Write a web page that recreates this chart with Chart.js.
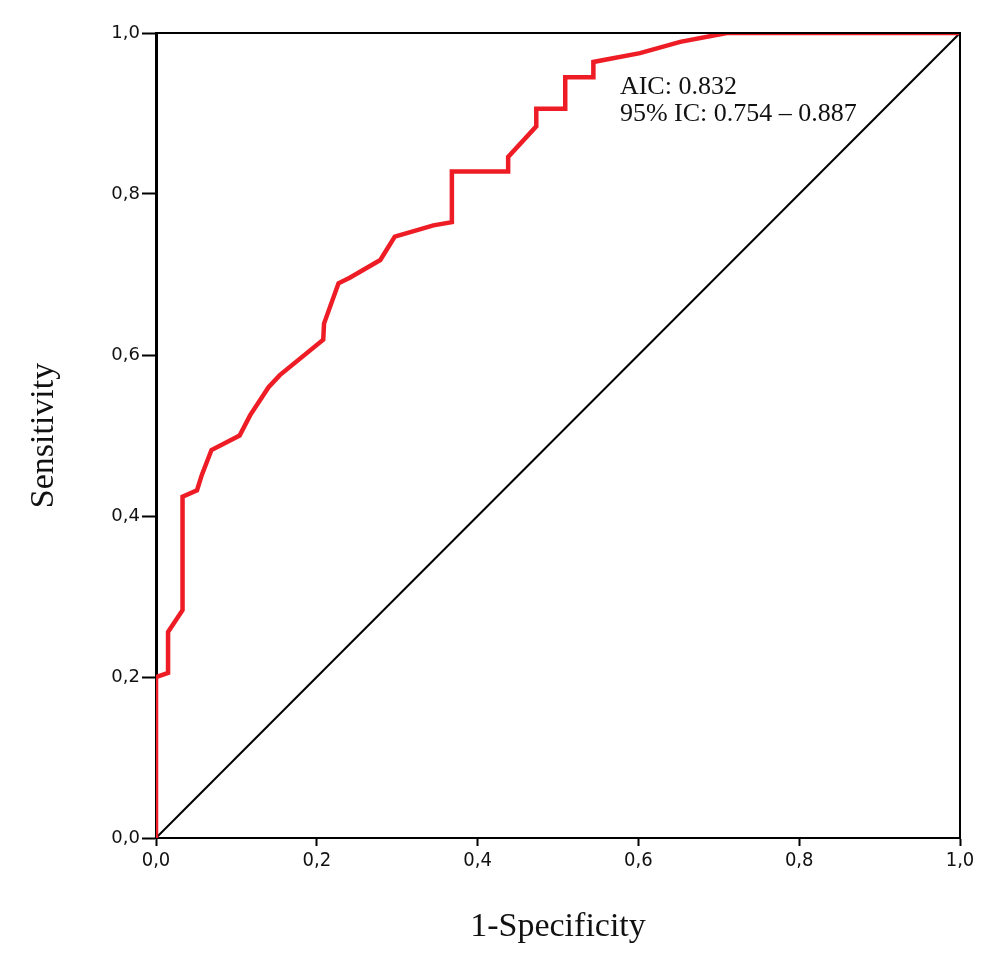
<!DOCTYPE html>
<html>
<head>
<meta charset="utf-8">
<script src="https://cdn.jsdelivr.net/npm/chart.js@4/dist/chart.umd.min.js"></script>
<style>
  body { margin: 0; background: #fff; }
  canvas { display: block; }
</style>
</head>
<body>
<canvas id="roc" width="1000" height="956"></canvas>
<script>
// ---- Daten ----
const fpr = [0, 0, 0.015, 0.015, 0.033, 0.033, 0.051, 0.057, 0.069, 0.104, 0.117, 0.140, 0.154,
    0.208, 0.209, 0.227, 0.241, 0.279, 0.297, 0.345, 0.368, 0.368, 0.438, 0.438, 0.473, 0.473,
    0.509, 0.509, 0.544, 0.544, 0.602, 0.652, 0.710, 1.0];
const tpr = [0, 0.200, 0.205, 0.256, 0.283, 0.424, 0.432, 0.451, 0.482, 0.500, 0.525, 0.560, 0.575,
    0.619, 0.639, 0.689, 0.696, 0.718, 0.747, 0.761, 0.765, 0.828, 0.828, 0.846, 0.884, 0.906,
    0.906, 0.945, 0.945, 0.964, 0.975, 0.989, 1.0, 1.0];
const refX = [0, 1];
const refY = [0, 1];
const annotationLines = ['AIC: 0.832', '95% IC: 0.754 \u2013 0.887'];

const fmt = v => v.toFixed(1).replace('.', ',');

// ---- Rahmen + Text ----
const framePlugin = {
    id: 'frame',
    afterDatasetsDraw(chart) {
        const { ctx, chartArea: a, scales } = chart;
        ctx.save();
        ctx.strokeStyle = '#000';
        ctx.lineWidth = 2;
        ctx.beginPath();
        ctx.moveTo(a.left, a.top);
        ctx.lineTo(a.right, a.top);
        ctx.lineTo(a.right, a.bottom);
        ctx.stroke();
        ctx.fillStyle = '#111';
        ctx.font = '26px "Liberation Serif", "Times New Roman", serif';
        ctx.textBaseline = 'alphabetic';
        const x = scales.x.getPixelForValue(0.577);
        ctx.fillText(annotationLines[0], x, scales.y.getPixelForValue(0.924));
        ctx.fillText(annotationLines[1], x, scales.y.getPixelForValue(0.891));
        ctx.restore();
    }
};

const ctx = document.getElementById('roc').getContext('2d');
new Chart(ctx, {
    type: 'line',
    data: {
        datasets: [
            {
                data: fpr.map((x, i) => ({ x, y: tpr[i] })),
                borderColor: '#ee1c25',
                borderWidth: 4.5,
                pointRadius: 0,
                tension: 0,
                fill: false
            },
            {
                data: refX.map((x, i) => ({ x, y: refY[i] })),
                borderColor: '#000',
                borderWidth: 2,
                pointRadius: 0,
                fill: false
            }
        ]
    },
    options: {
        responsive: false,
        animation: false,
        layout: { padding: { top: 33, right: 40, left: 0, bottom: 0 } },
        plugins: { legend: { display: false }, tooltip: { enabled: false } },
        scales: {
            x: {
                type: 'linear',
                min: 0, max: 1,
                afterFit(s) { s.height = 118; },
                ticks: {
                    stepSize: 0.2,
                    color: '#111',
                    padding: 3,
                    font: { family: '"Liberation Sans Narrow", "DejaVu Sans Condensed", "Liberation Sans", sans-serif', size: 20 },
                    callback: v => fmt(v)
                },
                grid: { drawOnChartArea: false, drawTicks: true, tickLength: 8, tickColor: '#000', tickWidth: 2 },
                border: { display: true, color: '#000', width: 2 },
                title: {
                    display: true,
                    text: '1-Specificity',
                    color: '#111',
                    font: { family: '"Liberation Serif", "Times New Roman", serif', size: 34 },
                    padding: { top: 0, bottom: 9 }
                }
            },
            y: {
                type: 'linear',
                min: 0, max: 1,
                afterFit(s) { s.width = 156; },
                ticks: {
                    stepSize: 0.2,
                    color: '#111',
                    padding: 2,
                    font: { family: '"DejaVu Sans", "Liberation Sans", sans-serif', size: 18 },
                    callback: v => fmt(v)
                },
                grid: { drawOnChartArea: false, drawTicks: true, tickLength: 14, tickColor: '#000', tickWidth: 2 },
                border: { display: true, color: '#000', width: 3 },
                title: {
                    display: true,
                    text: 'Sensitivity',
                    color: '#111',
                    font: { family: '"Liberation Serif", "Times New Roman", serif', size: 34 },
                    padding: { top: 24, bottom: 0 }
                }
            }
        }
    },
    plugins: [framePlugin]
});
</script>
</body>
</html>
